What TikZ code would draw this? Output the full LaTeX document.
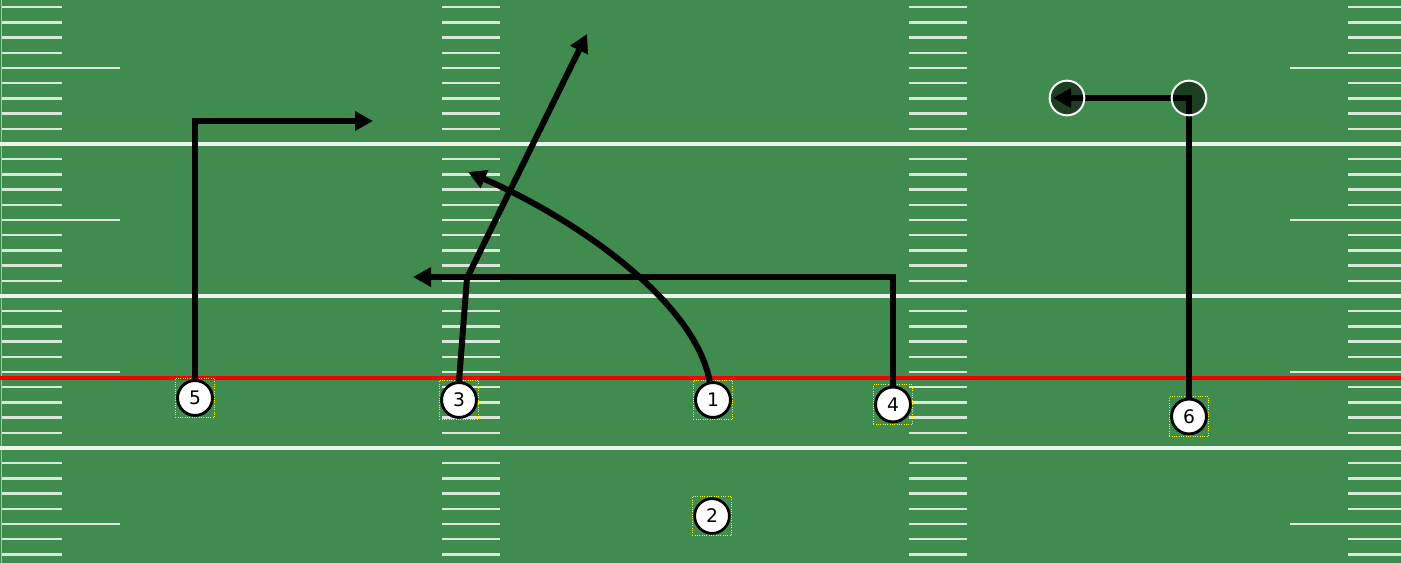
\documentclass[tikz,border=0pt]{standalone}
\usepackage{fontspec}
\setmainfont{DejaVu Sans}
\usetikzlibrary{arrows.meta}
\definecolor{turf}{RGB}{64,140,78}
\definecolor{losred}{RGB}{245,0,0}
\begin{document}
\begin{tikzpicture}[x=0.75pt,y=-0.75pt,
  hashmark/.style={white,opacity=0.8,line width=1.7pt},
  yardline/.style={white,opacity=0.9,line width=2.8pt},
  route/.style={black,line width=4.5pt,line join=miter},
  routetip/.style={-{Triangle[length=13.5pt,width=14pt]}},
  player/.style={circle,draw=black,fill=white,line width=2pt,minimum size=26pt,inner sep=0pt,font=\fontsize{14}{14}\selectfont},
  selbox/.style={draw=yellow,densely dotted,line width=0.75pt,minimum size=29.5pt,inner sep=0pt},
  ghost/.style={circle,draw=white,fill=black,fill opacity=0.55,line width=1.5pt,minimum size=26pt,inner sep=0pt}]
\useasboundingbox (0,0) rectangle (1401,563);
\fill[turf] (0,0) rectangle (1401,563);
% hash marks
\foreach \k in {-9,-8,-7,-6,-4,-3,-2,-1,1,2,3,4,6,7,8,9,11,12,13,14,16,17,18,19,21,22,23,24,26,27}{
  \pgfmathsetmacro{\yy}{144+15.2*\k}
  \draw[hashmark] (2,\yy) -- (62,\yy);
  \draw[hashmark] (1348,\yy) -- (1401,\yy);
}
\foreach \k in {-5,5,15,25}{
  \pgfmathsetmacro{\yy}{144+15.2*\k}
  \draw[hashmark] (2,\yy) -- (120,\yy);
  \draw[hashmark] (1290,\yy) -- (1401,\yy);
}
\foreach \k in {-9,-8,-7,-6,-5,-4,-3,-2,-1,1,2,3,4,5,6,7,8,9,11,12,13,14,15,16,17,18,19,21,22,23,24,25,26,27}{
  \pgfmathsetmacro{\yy}{144+15.2*\k}
  \draw[hashmark] (442,\yy) -- (500,\yy);
  \draw[hashmark] (909,\yy) -- (967,\yy);
}
\foreach \k in {0,10,20}{
  \pgfmathsetmacro{\yy}{144+15.2*\k}
  \draw[yardline] (0,\yy) -- (1401,\yy);
}
\draw[white,opacity=0.5,line width=0.75pt] (1.5,0) -- (1.5,563);
% line of scrimmage
\coordinate (losL) at (0,378);
\coordinate (losR) at (1401,378);
\draw[losred,line width=2.4pt] (losL) -- (losR);
% selection boxes
\node[selbox] (b5) at (195,398) {};
\node[selbox] (b3) at (459,400) {};
\node[selbox] (b1) at (713,400) {};
\node[selbox] (b4) at (893,404.5) {};
\node[selbox] (b6) at (1189,416.5) {};
\node[selbox] (b2) at (712,516) {};
% players
\node[player] (p5) at (195,398) {5};
\node[player] (p3) at (459,400) {3};
\node[player] (p1) at (713,400) {1};
\node[player] (p4) at (893,404.5) {4};
\node[player] (p6) at (1189,416.5) {6};
\node[player] (p2) at (712,516) {2};
% route coordinates
\coordinate (c5) at (195,121);
\coordinate (e5) at (373,121);
\coordinate (c3) at (467,278);
\coordinate (e3) at (587,34);
\coordinate (c4) at (893,277);
\coordinate (e4) at (413,277);
\coordinate (e1) at (468,172);
\coordinate (c6) at (1189,98);
\coordinate (e6) at (1053,98);
\coordinate (g6) at (1067,98);
% routes
\draw[route,routetip] (p5.north) -- (c5) -- (e5);
\draw[route,routetip] (p3.north) -- (c3) -- (e3);
\draw[route,routetip] (p4.north) -- (c4) -- (e4);
\draw[route,routetip] (p1.100) .. controls (695,300) and (572,217) .. (e1);
\draw[route,routetip] (p6.north) -- (c6) -- (e6);
% option markers
\node[ghost] (o6a) at (c6) {};
\node[ghost] (o6b) at (g6) {};
% players on top of their routes
\node[player] at (p5) {5};
\node[player] at (p3) {3};
\node[player] at (p1) {1};
\node[player] at (p4) {4};
\node[player] at (p6) {6};
\end{tikzpicture}
\end{document}
